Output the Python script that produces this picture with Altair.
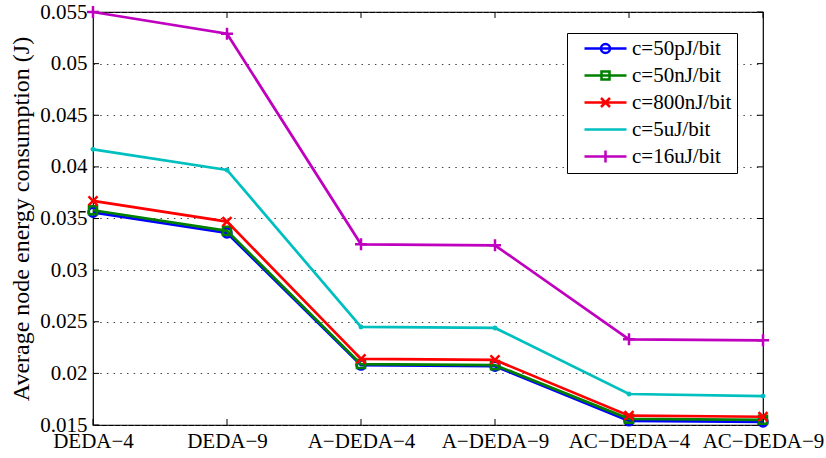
import altair as alt
import pandas as pd

# Categories on the x axis and the five energy-per-bit settings
SCHEMES = ["DEDA−4", "DEDA−9", "A−DEDA−4", "A−DEDA−9", "AC−DEDA−4", "AC−DEDA−9"]
SERIES = ["c=50pJ/bit", "c=50nJ/bit", "c=800nJ/bit", "c=5uJ/bit", "c=16uJ/bit"]

# Average node energy consumption (J) per scheme
E_50PJ = [0.0356, 0.0336, 0.0208, 0.0207, 0.0154, 0.0153]
E_50NJ = [0.0358, 0.0338, 0.0209, 0.0208, 0.0156, 0.0155]
E_800NJ = [0.0367, 0.0347, 0.0214, 0.0213, 0.0159, 0.0158]
E_5UJ = [0.0417, 0.0397, 0.0245, 0.0244, 0.0180, 0.0178]
E_16UJ = [0.0550, 0.0529, 0.0325, 0.0324, 0.0233, 0.0232]

Y_TICKS = [0.015, 0.02, 0.025, 0.03, 0.035, 0.04, 0.045, 0.05, 0.055]

COLORS = ["#0000ff", "#008000", "#ff0000", "#00bfbf", "#bf00bf"]

# Plot markers (unit symbol coordinates)
MARKERS = [
    "M-0.75,0A0.75,0.75,0,1,0,0.75,0A0.75,0.75,0,1,0,-0.75,0Z",
    "M-0.67,-0.67L0.67,-0.67L0.67,0.67L-0.67,0.67Z",
    "M-0.75,-0.75L0.75,0.75M-0.75,0.75L0.75,-0.75",
    "M-0.2,0A0.2,0.2,0,1,0,0.2,0A0.2,0.2,0,1,0,-0.2,0Z",
    "M-1,0L1,0M0,-1L0,1",
]
# Legend symbols: a line segment to the right of the symbol anchor with the
# marker at its middle (unit = 5 px for a legend symbol size of 100)
LEGEND_SYMBOLS = [
    "M0.4,0L8.8,0M3.7,0A0.9,0.9,0,1,0,5.5,0A0.9,0.9,0,1,0,3.7,0Z",
    "M0.4,0L8.8,0M3.8,-0.8L5.4,-0.8L5.4,0.8L3.8,0.8Z",
    "M0.4,0L8.8,0M3.7,-0.9L5.5,0.9M3.7,0.9L5.5,-0.9",
    "M0.4,0L8.8,0",
    "M0.4,0L8.8,0M4.6,-1.2L4.6,1.2",
]

W, H = 670, 413
FONT = "Liberation Serif, Times New Roman, Times, DejaVu Serif, serif"

rows = []
for name, vals in zip(SERIES, [E_50PJ, E_50NJ, E_800NJ, E_5UJ, E_16UJ]):
    for s, v in zip(SCHEMES, vals):
        rows.append({"scheme": s, "energy": v, "series": name})
df = pd.DataFrame(rows)

x_scale = alt.Scale(type="point", domain=SCHEMES, padding=0)
y_scale = alt.Scale(domain=[0.015, 0.055], nice=False, zero=False)
color_scale = alt.Scale(domain=SERIES, range=COLORS)

x_axis = alt.Axis(
    title=None, labelFont=FONT, labelFontSize=21, labelColor="black",
    labelPadding=5, ticks=False, domain=False, grid=False, labelAngle=0,
    labelOverlap=False,
)
y_axis = alt.Axis(
    title="Average node energy consumption (J)", values=Y_TICKS, format=".3~f",
    labelFont=FONT, labelFontSize=21, labelColor="black", labelPadding=6,
    ticks=False, domain=False, grid=True, gridColor="#444444",
    gridDash=[1.5, 5.2], gridWidth=1, titleFont=FONT, titleFontSize=24,
    titleFontWeight="normal", titleColor="black", titlePadding=6,
    labelOverlap=False,
)

X = alt.X("scheme:N", scale=x_scale, axis=x_axis, sort=SCHEMES)
Y = alt.Y("energy:Q", scale=y_scale, axis=y_axis)

base = alt.Chart(df)

# Legend-only layer (invisible marks); listed first so its legend settings win
legend = alt.Legend(
    title=None, orient="none", legendX=474, legendY=21,
    symbolSize=100, symbolStrokeWidth=2.5, symbolOpacity=1,
    labelFont=FONT, labelFontSize=21, labelColor="black", labelOffset=39,
    rowPadding=5, padding=5, strokeColor="black", fillColor="white",
    labelLimit=300,
)
legend_layer = base.mark_point(filled=False, opacity=0).encode(
    x=X, y=Y,
    color=alt.Color("series:N", scale=color_scale, legend=legend),
    shape=alt.Shape("series:N", scale=alt.Scale(domain=SERIES, range=LEGEND_SYMBOLS), legend=legend),
)

layers = []
for name, color, marker in zip(SERIES, COLORS, MARKERS):
    sub = base.transform_filter(alt.datum.series == name)
    layers.append(
        sub.mark_line(strokeWidth=2.7).encode(
            x=X, y=Y,
            color=alt.Color("series:N", scale=color_scale, legend=None),
        )
    )
    layers.append(
        sub.mark_point(shape=marker, size=144, filled=False, strokeWidth=2.5, opacity=1).encode(
            x=X, y=Y,
            color=alt.Color("series:N", scale=color_scale, legend=None),
        )
    )

# Inward tick marks on all four sides of the box
y_ticks_df = pd.DataFrame({"energy": Y_TICKS})
x_ticks_df = pd.DataFrame({"scheme": SCHEMES})
TICK = 6
tick_layers = [
    alt.Chart(y_ticks_df).mark_rule(color="black", strokeWidth=1).encode(
        y=Y, x=alt.value(0), x2=alt.value(TICK)),
    alt.Chart(y_ticks_df).mark_rule(color="black", strokeWidth=1).encode(
        y=Y, x=alt.value(W - TICK), x2=alt.value(W)),
    alt.Chart(x_ticks_df).mark_rule(color="black", strokeWidth=1).encode(
        x=X, y=alt.value(H - TICK), y2=alt.value(H)),
    alt.Chart(x_ticks_df).mark_rule(color="black", strokeWidth=1).encode(
        x=X, y=alt.value(0), y2=alt.value(TICK)),
]

chart = alt.layer(legend_layer, *tick_layers, *layers).properties(
    width=W, height=H,
    autosize=alt.AutoSizeParams(type="none"),
    padding={"left": 93, "top": 12, "right": 826 - 93 - W, "bottom": 458 - 12 - H},
    background="white",
).configure_view(
    stroke="black", strokeWidth=1.2,
)

chart.save("out.html", embed_options={"renderer": "svg", "actions": False})
